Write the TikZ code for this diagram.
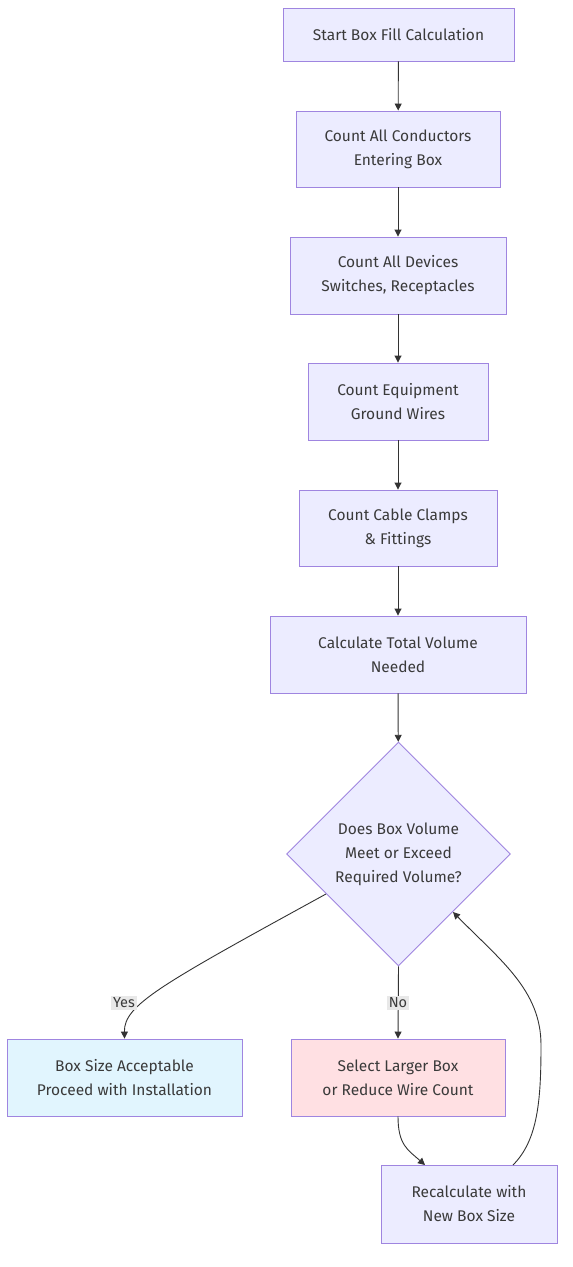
\documentclass[tikz,border=0pt]{standalone}
\usepackage{fontspec}
\setmainfont{Fira Sans}
\usetikzlibrary{shapes.geometric,arrows.meta}
\definecolor{nodefill}{HTML}{ECECFF}
\definecolor{nodeline}{HTML}{9F85E0}
\definecolor{yesfill}{HTML}{E1F5FE}
\definecolor{nofill}{HTML}{FFE0E3}
\definecolor{edgecol}{HTML}{333333}
\definecolor{txt}{HTML}{3A3A3A}
\definecolor{lblbg}{HTML}{E8E8E8}
\tikzset{
  box/.style={draw=nodeline, fill=nodefill, line width=0.9pt, inner sep=0pt,
    align=center, text=txt, font=\fontsize{15.5}{24}\selectfont,
    execute at begin node=\vspace*{4pt}},
  dec/.style={diamond, draw=nodeline, fill=nodefill, line width=0.9pt, inner sep=0pt,
    align=center, text=txt, font=\fontsize{15.5}{24}\selectfont,
    minimum width=224pt, minimum height=224pt},
  edge/.style={draw=edgecol, line width=0.9pt, -{Triangle[length=7pt,width=7pt]}},
  lbl/.style={fill=lblbg, text=txt, inner sep=2pt, font=\fontsize{14.5}{16}\selectfont}
}
\begin{document}
\begin{tikzpicture}[x=1pt,y=-1pt]
\useasboundingbox (0,0) rectangle (573,1267);
\node[box, minimum width=231pt, minimum height=53pt] (start) at (398.5,34.5) {Start Box Fill Calculation};
\node[box, minimum width=204pt, minimum height=76pt] (cond) at (398,149) {Count All Conductors\\Entering Box};
\node[box, minimum width=216pt, minimum height=77pt] (dev) at (398,275.5) {Count All Devices\\Switches, Receptacles};
\node[box, minimum width=180pt, minimum height=77pt] (gnd) at (398,401.5) {Count Equipment\\Ground Wires};
\node[box, minimum width=198pt, minimum height=76pt] (clamp) at (398,528) {Count Cable Clamps\\\& Fittings};
\node[box, minimum width=256pt, minimum height=77pt] (calc) at (398,654.5) {Calculate Total Volume\\Needed};
\node[dec] (q) at (398.5,854) {Does Box Volume\\Meet or Exceed\\Required Volume?};
\node[box, fill=yesfill, minimum width=235pt, minimum height=77pt] (ok) at (124.5,1077.5) {Box Size Acceptable\\Proceed with Installation};
\node[box, fill=nofill, minimum width=214pt, minimum height=77pt] (larger) at (398,1077.5) {Select Larger Box\\or Reduce Wire Count};
\node[box, minimum width=176pt, minimum height=78pt] (recalc) at (469,1204) {Recalculate with\\New Box Size};

\draw[edge] (start) -- (cond);
\draw[edge] (cond) -- (dev);
\draw[edge] (dev) -- (gnd);
\draw[edge] (gnd) -- (clamp);
\draw[edge] (clamp) -- (calc);
\draw[edge] (calc) -- (q);
\coordinate (qyes) at (326,894);
\coordinate (qin) at (453,912);
\draw[edge] (qyes) .. controls (160,985) and (124,1005) .. (ok.north);
\draw[edge] (q.south) -- (larger.north);
\coordinate (rin) at (425,1165);
\coordinate (rout) at (513,1165);
\draw[edge] (larger.south) .. controls (398,1145) and (408,1150) .. (rin);
\draw[edge] (rout) .. controls (538,1140) and (541,1100) .. (541,1045) .. controls (541,990) and (500,960) .. (qin);
\node[lbl] (ylbl) at (124,1003) {Yes};
\node[lbl] (nlbl) at (398,1003) {No};
\end{tikzpicture}
\end{document}
